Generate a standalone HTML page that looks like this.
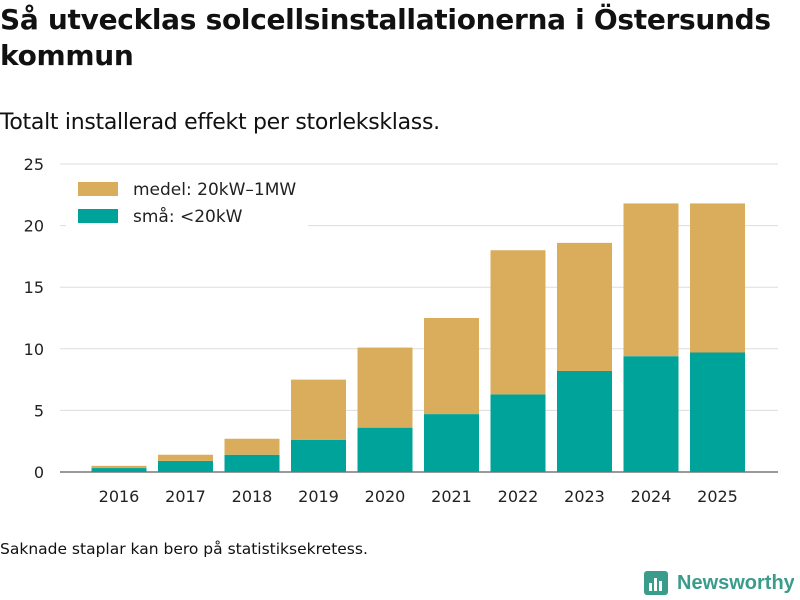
<!DOCTYPE html>
<html><head><meta charset="utf-8">
<style>
body{margin:0;background:#fff;font-family:"Liberation Sans","DejaVu Sans",sans-serif;}
#wrap{position:relative;width:800px;height:600px;overflow:hidden;}
h1{position:absolute;left:0;top:2px;margin:0;font-size:28px;line-height:36px;font-weight:bold;color:#111;font-family:"DejaVu Sans","Liberation Sans",sans-serif;letter-spacing:-0.3px}
.sub{position:absolute;left:0;top:110px;font-size:22px;color:#111;font-family:"DejaVu Sans",sans-serif;letter-spacing:-0.3px}
.note{position:absolute;left:0;top:540px;font-size:15.5px;color:#111;font-family:"DejaVu Sans",sans-serif}
</style></head><body>
<div id="wrap">
<h1>Så utvecklas solcellsinstallationerna i Östersunds<br>kommun</h1>
<div class="sub">Totalt installerad effekt per storleksklass.</div>
<svg id="chart" width="800" height="600" style="position:absolute;left:0;top:0"></svg>
<div class="note">Saknade staplar kan bero på statistiksekretess.</div>
<svg style="position:absolute;left:644px;top:569px" width="150" height="30">
<rect x="0" y="2" width="24" height="24" rx="3" fill="#3a9c8a"/>
<rect x="5" y="14" width="3" height="8" fill="#fff"/><rect x="10" y="9" width="3" height="13" fill="#fff"/><rect x="15" y="12" width="3" height="10" fill="#fff"/>
<text x="33" y="20" font-size="20" font-weight="bold" fill="#3a9c8a" font-family="Liberation Sans,sans-serif">Newsworthy</text>
</svg>
</div>
<script>
const years=["2016","2017","2018","2019","2020","2021","2022","2023","2024","2025"];
const small=[0.32,0.9,1.4,2.6,3.6,4.7,6.3,8.2,9.4,9.7];
const medel=[0.18,0.5,1.3,4.9,6.5,7.8,11.7,10.4,12.4,12.1];
const yTicks=[0,5,10,15,20,25];
const NS="http://www.w3.org/2000/svg";
const svg=document.getElementById('chart');
const x0=60,x1=778,yBase=472,yTop=164,yMax=25;
const y=v=>yBase-(v/yMax)*(yBase-yTop);
const step=66.5,first=119,bw=55;
const x=i=>first+i*step;
function mk(t,a){const e=document.createElementNS(NS,t);for(const k in a)e.setAttribute(k,a[k]);svg.appendChild(e);return e;}
yTicks.forEach(t=>{
 const l=mk('line',{x1:x0,x2:x1,y1:y(t),y2:y(t),stroke:t===0?'#333':'#ddd','stroke-width':1});
 
 
 const tx=mk('text',{x:44,y:y(t)+6,'text-anchor':'end','font-size':16,fill:'#222','font-family':'DejaVu Sans,sans-serif'});
 tx.textContent=t;
 
 
});
years.forEach((yr,i)=>{
 const r1=mk('rect',{x:x(i)-bw/2,y:y(small[i]),width:bw,height:yBase-y(small[i]),fill:'#00a39a'});
 
 
 const tot=small[i]+medel[i];
 const r2=mk('rect',{x:x(i)-bw/2,y:y(tot),width:bw,height:y(small[i])-y(tot),fill:'#d9ad5b'});
 
 
 const tx=mk('text',{x:x(i),y:502,'text-anchor':'middle','font-size':16,fill:'#222','font-family':'DejaVu Sans,sans-serif'});
 tx.textContent=yr;
 
 
});
mk('rect',{x:66,y:174,width:242,height:60,fill:'#fff'});
const legs=[["medel: 20kW–1MW","#d9ad5b",190],["små: <20kW","#00a39a",217]];
legs.forEach((l,i)=>{
 const r=mk('rect',{x:78,y:l[2]-8,width:40,height:14,fill:l[1]});
 
 
 const t=mk('text',{x:133,y:l[2]+5,'font-size':17,fill:'#222','font-family':'DejaVu Sans,sans-serif'});
 t.textContent=l[0];
 
 
});
</script>
</body></html>
